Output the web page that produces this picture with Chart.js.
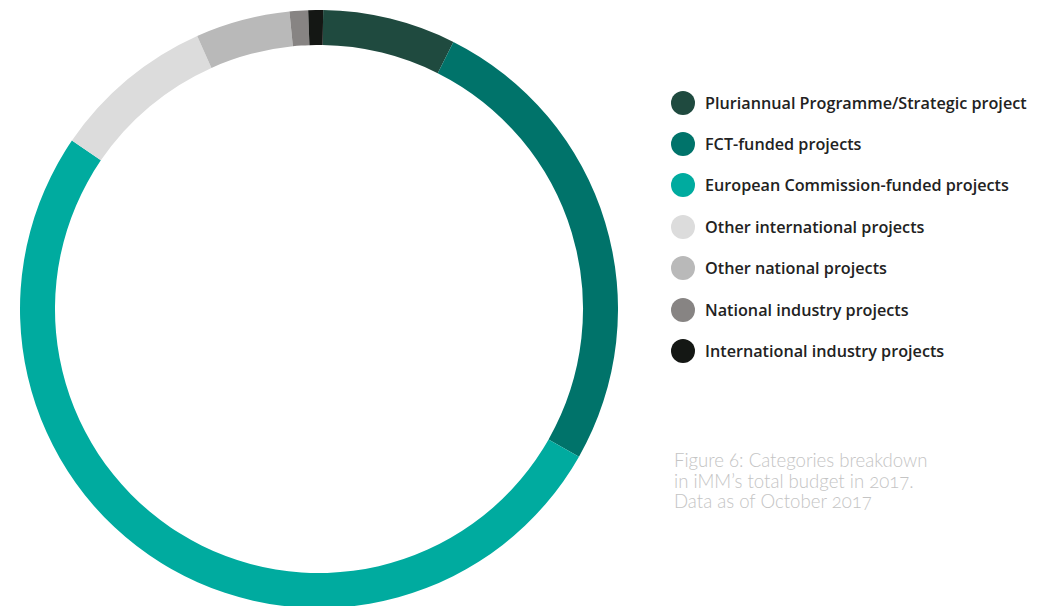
<!DOCTYPE html>
<html>
<head>
<meta charset="utf-8">
<script src="https://cdn.jsdelivr.net/npm/chart.js@4"></script>
<style>
    html, body { margin: 0; padding: 0; background: #fff; overflow: hidden; }
    body { width: 1057px; height: 606px; position: relative; }
    #chartBox { position: absolute; left: 20px; top: 10px; width: 598px; height: 598px; }
    #legend { position: absolute; left: 671px; top: 82px; font-family: "Open Sans", sans-serif; }
    .legend-row { display: flex; align-items: center; height: 41.4px; }
    .legend-dot { width: 24px; height: 24px; border-radius: 50%; margin-right: 10px; }
    .legend-text { font-size: 16.2px; font-weight: 600; color: #222; }
    #caption {
        position: absolute; left: 674px; top: 450px;
        font-family: "Lato", sans-serif; font-weight: 300; font-size: 18.6px;
        line-height: 20.5px; color: #c4c4c4;
        font-feature-settings: "onum";
    }
</style>
</head>
<body>
<div id="chartBox"><canvas id="budgetChart"></canvas></div>
<div id="legend"></div>
<div id="caption">Figure 6: Categories breakdown<br>in iMM’s total budget in 2017.<br>Data as of October 2017</div>
<script>
    // -----------------------------
    // DATA (share of 2017 budget, %)
    // -----------------------------
    const categories = [
        "Pluriannual Programme/Strategic project",
        "FCT-funded projects",
        "European Commission-funded projects",
        "Other international projects",
        "Other national projects",
        "National industry projects",
        "International industry projects"
    ];
    const shares = [7.2, 25.8, 51.3, 8.8, 5.1, 1.0, 0.8];
    const colors = ["#1f4a3f", "#00736a", "#00ab9f", "#dcdcdc", "#b9b9b9", "#878483", "#141714"];

    // -----------------------------
    // LEGEND
    // -----------------------------
    const legendEl = document.getElementById("legend");
    categories.forEach((name, i) => {
        const row = document.createElement("div");
        row.className = "legend-row";
        row.innerHTML = `<span class="legend-dot" style="background:${colors[i]}"></span><span class="legend-text">${name}</span>`;
        legendEl.appendChild(row);
    });

    // -----------------------------
    // DOUGHNUT
    // -----------------------------
    const ctx = document.getElementById("budgetChart").getContext("2d");
    new Chart(ctx, {
        type: "doughnut",
        data: {
            labels: categories,
            datasets: [{
                data: shares,
                backgroundColor: colors,
                borderWidth: 0
            }]
        },
        options: {
            responsive: true,
            maintainAspectRatio: false,
            animation: false,
            cutout: "88.3%",
            rotation: 0.8,
            layout: { padding: 0 },
            plugins: {
                legend: { display: false },
                tooltip: { enabled: false }
            }
        }
    });
</script>
</body>
</html>
